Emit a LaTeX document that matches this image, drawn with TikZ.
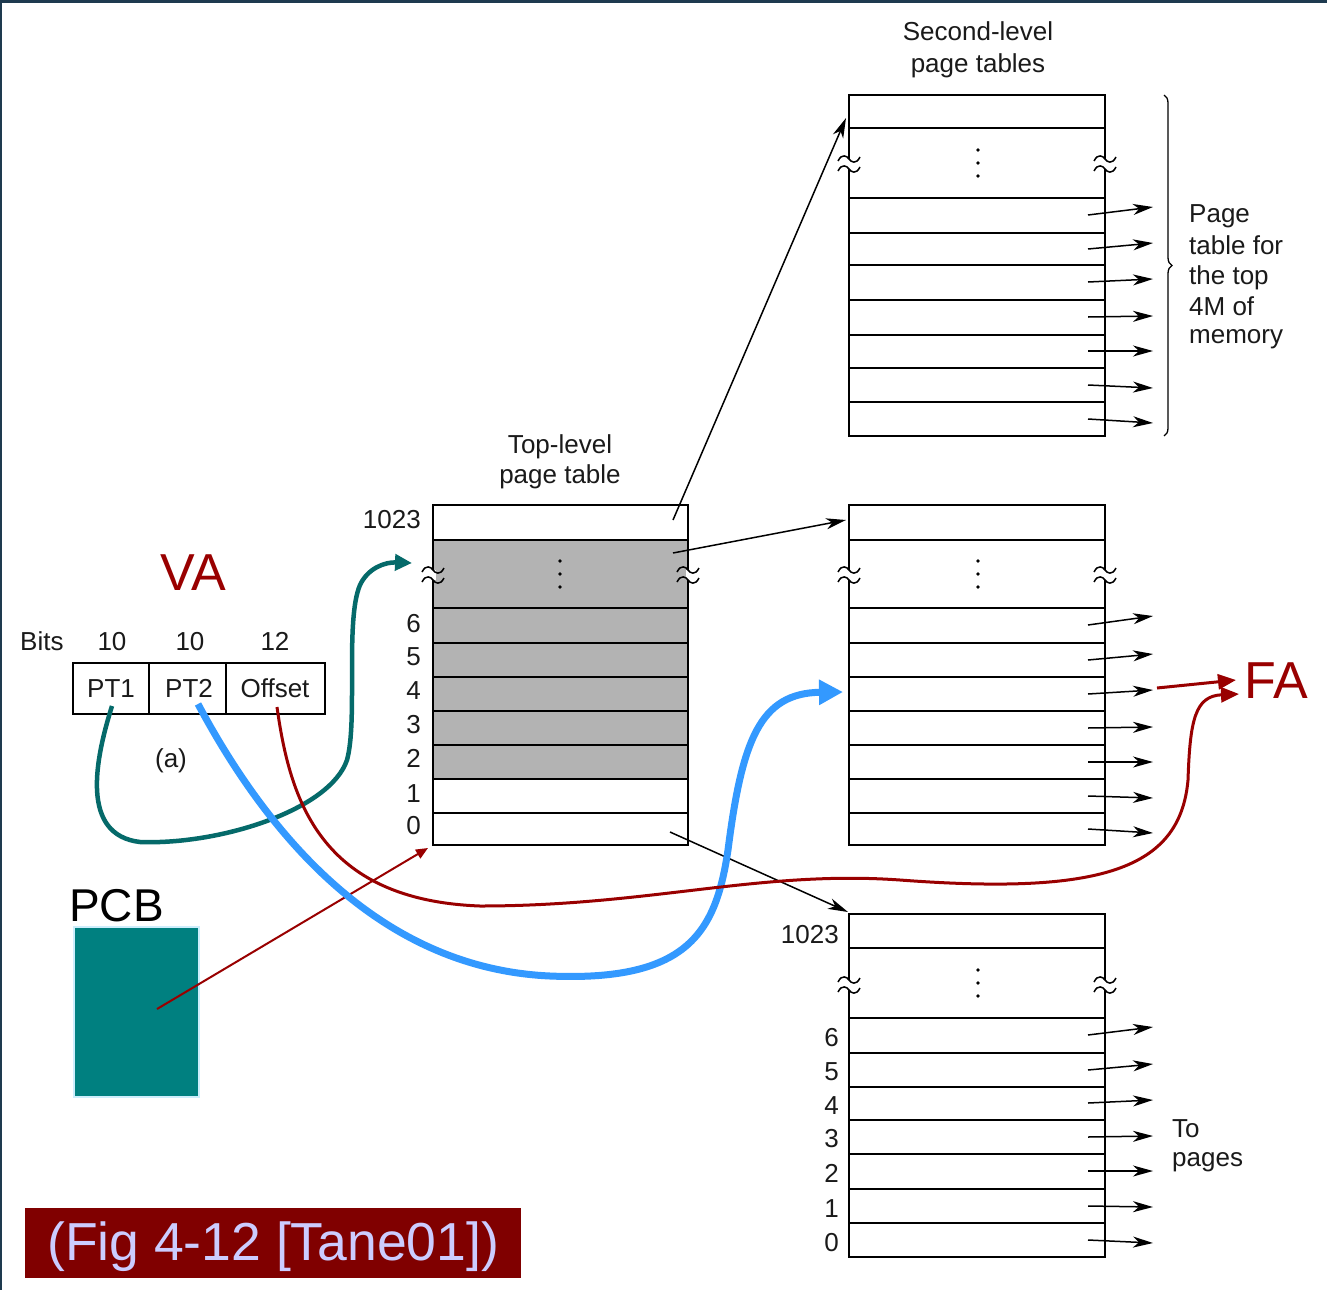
\documentclass[tikz,border=0pt]{standalone}
\usepackage{fontspec}
\setmainfont{Liberation Sans}
\usetikzlibrary{arrows.meta,decorations.pathreplacing}
\definecolor{frameblue}{HTML}{1E3A4F}
\definecolor{dred}{HTML}{990000}
\definecolor{tealc}{HTML}{056A6A}
\definecolor{bluec}{HTML}{3399FF}
\definecolor{pcbfill}{HTML}{008080}
\definecolor{pcbedge}{HTML}{CDEEFC}
\definecolor{graycell}{HTML}{B3B3B3}
\definecolor{capred}{HTML}{800000}
\definecolor{capfg}{HTML}{CCCCFF}
\definecolor{ink}{HTML}{1A1A1A}
\newcommand\myfs[1]{\fontsize{#1}{#1}\selectfont}
\newcommand\brkmark[2]{%
  \fill[white] ({#1-2.5},{#2-5}) rectangle ({#1+2.5},{#2+5});
  \draw[line width=1.5pt] ({#1-11},{#2-3}) .. controls ({#1-7},{#2-11}) and ({#1-2},{#2-8}) .. ({#1},{#2-5}) .. controls ({#1+2},{#2-2}) and ({#1+7},{#2+1}) .. ({#1+11},{#2-7});
  \draw[line width=1.5pt] ({#1-11},{#2+7}) .. controls ({#1-7},{#2-1}) and ({#1-2},{#2+2}) .. ({#1},{#2+5}) .. controls ({#1+2},{#2+8}) and ({#1+7},{#2+11}) .. ({#1+11},{#2+3});
}
\newcommand\mydots[2]{%
  \fill ({#1},{#2-13}) circle (1.9);
  \fill ({#1},{#2}) circle (1.9);
  \fill ({#1},{#2+13}) circle (1.9);
}
\tikzset{
  tbl/.style={line width=1.6pt},
  sarr/.style={line width=1.5pt,-{Stealth[length=20pt,width=11pt,inset=6pt]}},
  lbl/.style={inner sep=0pt,anchor=base,font=\myfs{26},text=ink},
  lblr/.style={lbl,anchor=base east},
  lbll/.style={lbl,anchor=base west},
  big/.style={inner sep=0pt,anchor=base,font=\myfs{52}},
}
\begin{document}
\begin{tikzpicture}[x=1pt,y=-1pt]
\useasboundingbox (0,0) rectangle (1327,1290);
\fill[white] (0,0) rectangle (1327,1290);
\fill[frameblue] (0,0) rectangle (1327,3);
\fill[frameblue] (0,0) rectangle (2,1290);

% ---------- top-level page table ----------
\fill[graycell] (433,540) rectangle (688,779);
\draw[tbl] (433,505) rectangle (688,845);
\foreach \y in {540,608,643,677,711,745,779,813} \draw[tbl] (433,\y) -- (688,\y);
\brkmark{433}{575}\brkmark{688}{575}
\mydots{560}{574}
\node[lbl] (tl1) at (560,453) {Top-level};
\node[lbl] (tl2) at (560,483) {page table};
\node[lblr] (n1023a) at (421,528) {1023};
\foreach \n/\b in {6/632,5/665,4/699,3/733,2/767,1/802,0/834}
  \node[lblr] (na\n) at (421,\b) {\n};

% ---------- second-level tables ----------
\draw[tbl] (849,95) rectangle (1105,436);
\foreach \y in {128,198,233,265,300,335,368,402} \draw[tbl] (849,\y) -- (1105,\y);
\brkmark{849}{164}\brkmark{1105}{164}
\mydots{978}{163}

\draw[tbl] (849,505) rectangle (1105,845);
\foreach \y in {540,608,643,677,711,745,779,813} \draw[tbl] (849,\y) -- (1105,\y);
\brkmark{849}{575}\brkmark{1105}{575}
\mydots{978}{574}

\draw[tbl] (849,914) rectangle (1105,1257);
\foreach \y in {948,1018,1053,1087,1120,1154,1189,1223} \draw[tbl] (849,\y) -- (1105,\y);
\brkmark{849}{985}\brkmark{1105}{985}
\mydots{978}{983}
\node[lblr] (n1023b) at (839,943) {1023};
\foreach \n/\b in {6/1046,5/1080,4/1114,3/1147,2/1182,1/1217,0/1251}
  \node[lblr] (nb\n) at (839,\b) {\n};

\node[lbl] (sl1) at (978,41) {Second-level};
\node[lbl] (sl2) at (978,72) {page tables};

% small arrows
\foreach \c/\d [count=\i] in {215/-8,249/-6,282/-3,317/-1,351/0,385/3,419/4} {
  \coordinate (pas\i) at (1088,\c); \coordinate (pae\i) at (1153,{\c+(\d)});
  \draw[sarr] (pas\i) -- (pae\i);
}
\foreach \c/\d [count=\i] in {625/-9,660/-6,694/-4,728/-1,762/0,796/2,829/4} {
  \coordinate (pbs\i) at (1088,\c); \coordinate (pbe\i) at (1153,{\c+(\d)});
  \draw[sarr] (pbs\i) -- (pbe\i);
}
\foreach \c/\d [count=\i] in {1035/-8,1070/-6,1103/-3,1137/-1,1171/0,1206/1,1240/3} {
  \coordinate (pcs\i) at (1088,\c); \coordinate (pce\i) at (1153,{\c+(\d)});
  \draw[sarr] (pcs\i) -- (pce\i);
}

% brace and its text
\draw[line width=1.3pt,decorate,decoration={brace,amplitude=8pt}] (1164,95) -- (1164,436);
\node[lbll] (bt1) at (1189,222) {Page};
\node[lbll] (bt2) at (1189,254) {table for};
\node[lbll] (bt3) at (1189,284) {the top};
\node[lbll] (bt4) at (1189,315) {4M of};
\node[lbll] (bt5) at (1189,343) {memory};
\node[lbll] (tp1) at (1172,1137) {To};
\node[lbll] (tp2) at (1172,1166) {pages};

% connectors from top-level table
\coordinate (c1s) at (673,520); \coordinate (c1e) at (846,118);
\coordinate (c2s) at (673,553); \coordinate (c2e) at (846,520);
\coordinate (c3s) at (670,832); \coordinate (c3e) at (848,912);
\draw[sarr] (c1s) -- (c1e);
\draw[sarr] (c2s) -- (c2e);
\draw[sarr] (c3s) -- (c3e);

% ---------- virtual address ----------
\node[lbll] (bits) at (20,650) {Bits};
\node[lbl] (b1) at (112,650) {10};
\node[lbl] (b2) at (190,650) {10};
\node[lbl] (b3) at (275,650) {12};
\draw[line width=1.5pt] (73,663) rectangle (325,714);
\draw[line width=1.5pt] (149,663) -- (149,714);
\draw[line width=1.5pt] (226,663) -- (226,714);
\node[lbl] (pt1) at (111,697) {PT1};
\node[lbl] (pt2) at (189,697) {PT2};
\node[lbl] (off) at (275,697) {Offset};
\node[lbl] (lba) at (171,767) {(a)};

\node[big,text=dred] (va) at (193,590) {VA};
\node[big,text=dred,anchor=base west] (fa) at (1244,698) {FA};

% PCB
\node[inner sep=0pt,anchor=base west,font=\myfs{46}] (pcbl) at (69,921) {PCB};
\draw[fill=pcbfill,draw=pcbedge,line width=1.5pt] (74,927) rectangle (199,1097);
\coordinate (pcbc) at (157,1009); \coordinate (pcbe) at (428,848);
\draw[dred,line width=2pt,-{Triangle[length=12pt,width=10pt]}] (pcbc) -- (pcbe);

% curves
\coordinate (tls) at (112,706); \coordinate (tle) at (412,563);
\draw[tealc,line width=4.5pt,-{Triangle[length=17pt,width=16pt]}] (tls) .. controls (95,760) and (80,835) .. (140,842) .. controls (220,845) and (330,810) .. (347,760) .. controls (358,720) and (345,620) .. (360,585) .. controls (368,568) and (385,562) .. (tle);

\coordinate (bls) at (198,704); \coordinate (ble) at (843,692);
\draw[bluec,line width=7pt,-{Triangle[length=24pt,width=24pt]}] (bls) .. controls (260,820) and (370,968) .. (550,976) .. controls (690,982) and (716,930) .. (728,850) .. controls (742,740) and (760,693) .. (ble);

\coordinate (rls) at (277,707); \coordinate (rle) at (1239,694);
\draw[dred,line width=3pt,-{Triangle[length=18pt,width=15pt]}] (rls) .. controls (290,800) and (320,900) .. (480,906) .. controls (650,906) and (760,870) .. (900,880) .. controls (1100,895) and (1180,870) .. (1188,780) .. controls (1190,720) and (1195,696) .. (rle);

\coordinate (fas) at (1157,688); \coordinate (fae) at (1236,680);
\draw[dred,line width=3pt,-{Triangle[length=18pt,width=15pt]}] (fas) -- (fae);

% caption
\node[fill=capred,inner sep=0pt,minimum width=496pt,minimum height=70pt,anchor=north west] (cap) at (25,1208) {};
\node[inner sep=0pt,anchor=base west,font=\myfs{53.5},text=capfg] (capt) at (47,1260) {(Fig 4-12 [Tane01])};
\end{tikzpicture}
\end{document}
